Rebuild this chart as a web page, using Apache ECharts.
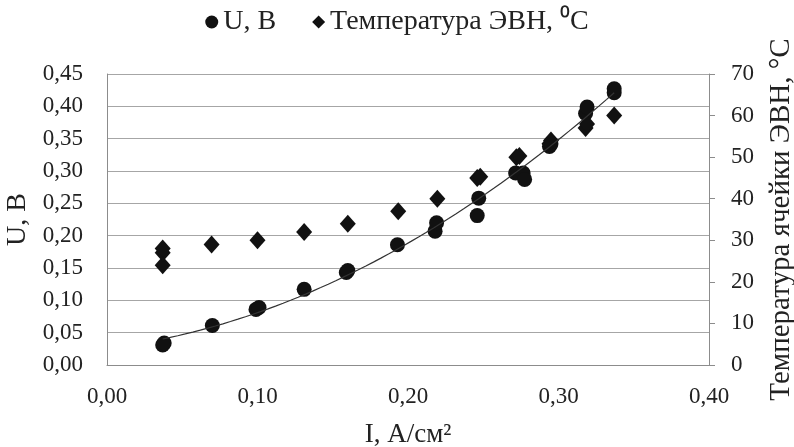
<!DOCTYPE html>
<html>
<head>
<meta charset="utf-8">
<script src="https://cdn.jsdelivr.net/npm/echarts@6/dist/echarts.min.js"></script>
<style>
html,body{margin:0;padding:0;background:#fff;}
#chart{width:794px;height:447px;}
</style>
</head>
<body>
<div id="chart"></div>
<script>
// Current density, A/cm2, and cell voltage, V (circles)
var uCurrent = [0.037, 0.038, 0.070, 0.099, 0.101, 0.131, 0.159, 0.160, 0.193, 0.218, 0.219, 0.246, 0.247, 0.2715, 0.2765, 0.2775, 0.294, 0.295, 0.318, 0.319, 0.337, 0.337];
var uVoltage = [0.031, 0.034, 0.061, 0.086, 0.089, 0.117, 0.143, 0.146, 0.186, 0.207, 0.220, 0.231, 0.258, 0.297, 0.297, 0.287, 0.338, 0.342, 0.389, 0.399, 0.421, 0.427];
// Current density and cell temperature, C (diamonds)
var tCurrent = [0.037, 0.037, 0.037, 0.0695, 0.100, 0.131, 0.160, 0.1935, 0.2195, 0.246, 0.248, 0.272, 0.274, 0.294, 0.295, 0.318, 0.319, 0.337];
var tTemp = [24, 27, 28, 29, 30, 32, 34, 37, 40, 45, 45.3, 50, 50.3, 53.2, 54, 57, 58, 60];

var seriesNames = ['U, В', 'Температура ЭВН, ⁰С'];
var xTitle = 'I, А/см²';
var yLeftTitle = 'U, В';
var yRightTitle = 'Температура ячейки ЭВН, °С';

// Polynomial (2nd order) least-squares trendline of U vs I, as in the original
function quadFit(xs, ys) {
  var n = xs.length, s = [0,0,0,0,0], t = [0,0,0];
  for (var i = 0; i < n; i++) {
    var x = xs[i], y = ys[i], p = 1;
    for (var k = 0; k < 5; k++) { s[k] += p; if (k < 3) t[k] += p * y; p *= x; }
  }
  var A = [[s[0], s[1], s[2], t[0]], [s[1], s[2], s[3], t[1]], [s[2], s[3], s[4], t[2]]];
  for (var c = 0; c < 3; c++) {
    for (var r = c + 1; r < 3; r++) {
      var f = A[r][c] / A[c][c];
      for (var j = c; j < 4; j++) A[r][j] -= f * A[c][j];
    }
  }
  var b = [0,0,0];
  for (var r2 = 2; r2 >= 0; r2--) {
    var v = A[r2][3];
    for (var j2 = r2 + 1; j2 < 3; j2++) v -= A[r2][j2] * b[j2];
    b[r2] = v / A[r2][r2];
  }
  return b;
}
var coef = quadFit(uCurrent, uVoltage);
var xmin = Math.min.apply(null, uCurrent), xmax = Math.max.apply(null, uCurrent);
var trend = [];
for (var i = 0; i <= 60; i++) {
  var x = xmin + (xmax - xmin) * i / 60;
  trend.push([x, coef[0] + coef[1] * x + coef[2] * x * x]);
}

var uData = uCurrent.map(function (x, i) { return [x, uVoltage[i]]; });
var tData = tCurrent.map(function (x, i) { return [x, tTemp[i]]; });

var TXT = '#222';
function comma(v) { return v.toFixed(2).replace('.', ','); }

var chart = echarts.init(document.getElementById('chart'));
chart.setOption({
  animation: false,
  backgroundColor: '#fff',
  legend: {
    top: 3,
    left: 'center',
    itemGap: 36,
    itemWidth: 13,
    itemHeight: 13,
    textStyle: {fontFamily: 'Liberation Serif', fontSize: 28, color: TXT},
    data: [
      {name: seriesNames[0], icon: 'circle', itemStyle: {color: '#111'}},
      {name: seriesNames[1], icon: 'diamond', itemStyle: {color: '#111'}}
    ]
  },
  grid: {left: 107, right: 85, top: 74, bottom: 82, outerBoundsMode: 'none', containLabel: false},
  xAxis: {
    type: 'value', min: 0, max: 0.4, interval: 0.1,
    name: xTitle, nameLocation: 'middle', nameGap: 56,
    nameTextStyle: {fontFamily: 'Liberation Serif', fontSize: 27, color: TXT},
    axisLine: {show: true, lineStyle: {color: '#8c8c8c', width: 1}},
    axisTick: {show: false},
    splitLine: {show: false},
    axisLabel: {formatter: comma, fontFamily: 'Liberation Serif', fontSize: 23, color: TXT, margin: 20}
  },
  yAxis: [
    {
      type: 'value', min: 0, max: 0.45, interval: 0.05, position: 'left',
      name: yLeftTitle, nameLocation: 'middle', nameGap: 74, nameRotate: 90,
      nameTextStyle: {fontFamily: 'Liberation Serif', fontSize: 28, color: TXT},
      axisLine: {show: true, lineStyle: {color: '#8c8c8c', width: 1}},
      axisTick: {show: false},
      splitLine: {show: true, lineStyle: {color: '#a6a6a6', width: 1}},
      axisLabel: {formatter: comma, fontFamily: 'Liberation Serif', fontSize: 23, color: TXT, margin: 24}
    },
    {
      type: 'value', min: 0, max: 70, interval: 10, position: 'right',
      name: yRightTitle, nameLocation: 'middle', nameGap: 58, nameRotate: 90,
      nameTextStyle: {fontFamily: 'Liberation Serif', fontSize: 29, color: TXT},
      axisLine: {show: true, lineStyle: {color: '#8c8c8c', width: 1}},
      axisTick: {show: true, inside: false, length: 6, lineStyle: {color: '#8c8c8c'}},
      splitLine: {show: false},
      axisLabel: {fontFamily: 'Liberation Serif', fontSize: 23, color: TXT, margin: 22}
    }
  ],
  series: [
    {
      name: seriesNames[0], type: 'scatter', yAxisIndex: 0,
      symbol: 'circle', symbolSize: 15,
      itemStyle: {color: '#111', opacity: 1},
      data: uData, z: 3
    },
    {
      name: seriesNames[1], type: 'scatter', yAxisIndex: 1,
      symbol: 'diamond', symbolSize: [16, 18],
      itemStyle: {color: '#111', opacity: 1},
      data: tData, z: 3
    },
    {
      name: 'trend', type: 'line', yAxisIndex: 0,
      data: trend, showSymbol: false, symbol: 'none', smooth: false,
      lineStyle: {color: '#333', width: 1.2},
      z: 4, silent: true
    }
  ]
});
</script>
</body>
</html>
